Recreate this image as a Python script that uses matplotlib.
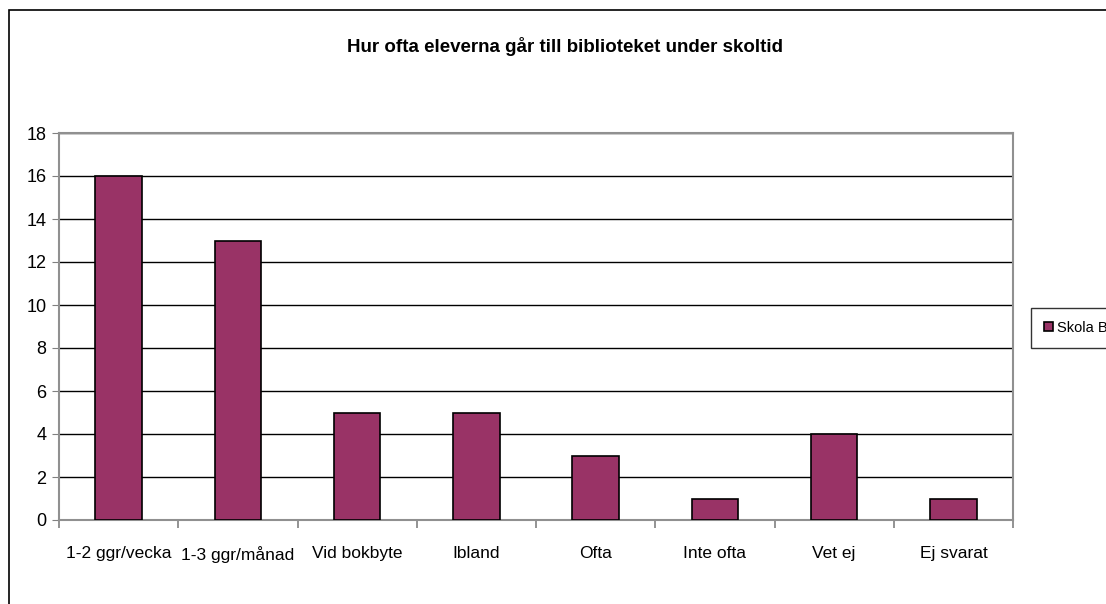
import numpy as np
import matplotlib.pyplot as plt
from matplotlib.patches import Rectangle

categories = ['1-2 ggr/vecka', '1-3 ggr/månad', 'Vid bokbyte', 'Ibland',
              'Ofta', 'Inte ofta', 'Vet ej', 'Ej svarat']
skola_b = [16, 13, 5, 5, 3, 1, 4, 1]
yticks = [0, 2, 4, 6, 8, 10, 12, 14, 16, 18]

plt.rcParams['font.family'] = ['Liberation Sans Narrow', 'Liberation Sans', 'DejaVu Sans']

W, H = 1106, 604
fig = plt.figure(figsize=(W / 100, H / 100), dpi=100)
ax = fig.add_axes([59 / W, 1 - 520 / H, (1013 - 59) / W, (520 - 133) / H])

# outer chart border
fig.patches.append(Rectangle((9 / W, -0.1), 1.2, 1 - 10 / H + 0.1,
                             transform=fig.transFigure, fill=False,
                             edgecolor='black', linewidth=1.2))

x = np.arange(len(categories))
ax.bar(x, skola_b, width=0.39, color='#993366', edgecolor='black',
       linewidth=1.2, label='Skola B', zorder=3)

ax.set_xlim(-0.5, len(categories) - 0.5)
ax.set_ylim(0, 18)
ax.set_yticks(yticks)
ax.yaxis.grid(True, color='black', linewidth=1.0, zorder=0)
ax.tick_params(axis='y', labelsize=13, length=5, color='#808080', pad=4)
ax.set_xticks(x)
ax.set_xticklabels(categories, fontsize=12.5)
ax.set_xticks(np.arange(len(categories) + 1) - 0.5, minor=True)
ax.tick_params(axis='x', which='major', length=0, pad=19)
ax.tick_params(axis='x', which='minor', length=6, color='#808080', width=1.2)

for s in ['left', 'bottom', 'top', 'right']:
    ax.spines[s].set_color('#909090')
    ax.spines[s].set_linewidth(1.5)

fig.text(565 / W, 1 - 47 / H, 'Hur ofta eleverna går till biblioteket under skoltid',
         ha='center', va='center', fontsize=13.5, fontweight='bold')

ax.legend(loc='center left', bbox_to_anchor=(1031 / W, 1 - 328 / H),
          bbox_transform=fig.transFigure, fontsize=10.5, frameon=True,
          fancybox=False, edgecolor='black', handlelength=0.6, handleheight=0.6,
          handletextpad=0.3, borderpad=0.9, borderaxespad=0)

fig.savefig('out.png', dpi=100)
